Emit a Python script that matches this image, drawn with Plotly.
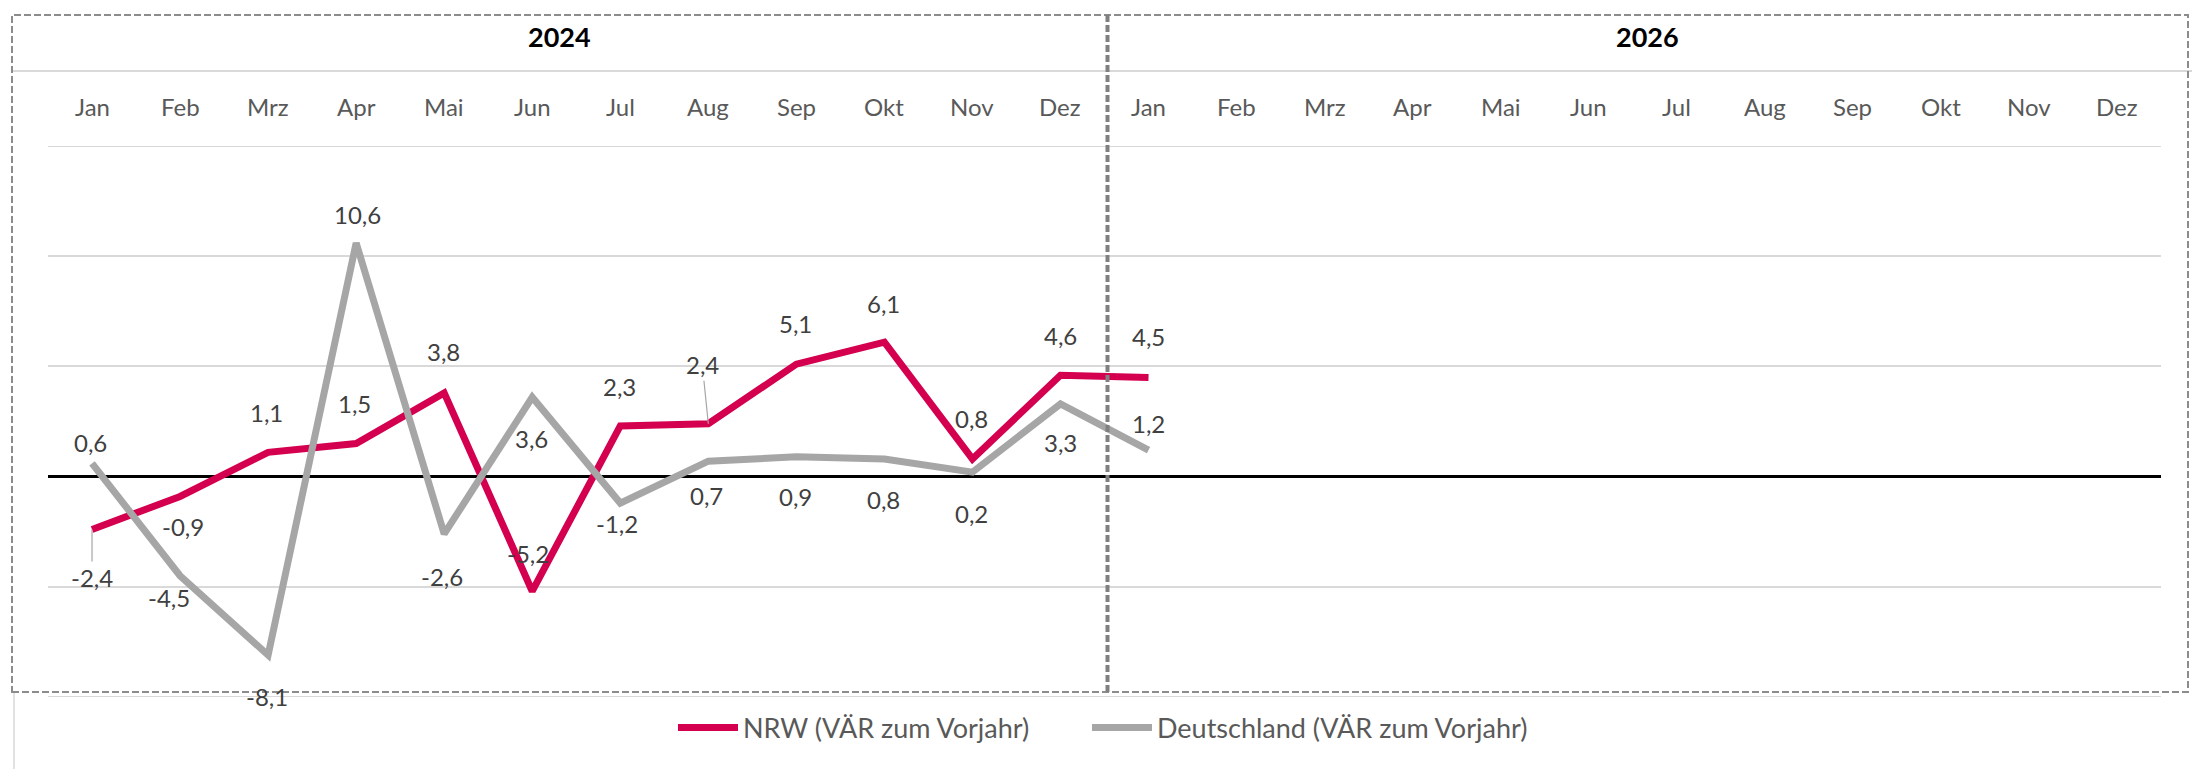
import plotly.graph_objects as go

# ---------------- data ----------------
months = ["Jan", "Feb", "Mrz", "Apr", "Mai", "Jun", "Jul", "Aug", "Sep", "Okt", "Nov", "Dez"]
years = ["2024", "2026"]
nrw_values = [-2.4, -0.9, 1.1, 1.5, 3.8, -5.2, 2.3, 2.4, 5.1, 6.1, 0.8, 4.6,
              4.5, None, None, None, None, None, None, None, None, None, None, None]
de_values = [0.6, -4.5, -8.1, 10.6, -2.6, 3.6, -1.2, 0.7, 0.9, 0.8, 0.2, 3.3,
             1.2, None, None, None, None, None, None, None, None, None, None, None]
series_names = ["NRW (VÄR zum Vorjahr)", "Deutschland (VÄR zum Vorjahr)"]
y_min, y_max, y_step = -10, 15, 5

# ---------------- styles / layout ----------------
W, H = 2192, 769
ML, MR, MT, MB = 48, 31, 146, 72
PW = W - ML - MR
PH = H - MT - MB

NRW_COLOR = "#D4004F"
DE_COLOR = "#A6A6A6"
LABEL_COLOR = "#404040"
AXIS_TEXT = "#595959"
GRID = "#D9D9D9"
FONT = "Lato"

# label offsets (pixels: dx right, dy down) and leader flags
nrw_off = [(0, 48), (3, 30), (-2, -40), (-2, -40), (-1, -41), (-4, -38), (-1, -39),
           (-6, -59), (-1, -41), (-1, -39), (-1, -40), (0, -40), (0, -41)]
nrw_leader = [True, False, False, False, False, False, False, True, False, False, False, False, False]
de_off = [(-2, -21), (-11, 22), (-1, 41), (1, -28), (-2, 43), (-1, 41), (-3, 20),
          (-2, 34), (-1, 40), (-1, 41), (-1, 41), (0, 39), (0, -27)]
legend_left_px = [673, 1087]


def px_x(px):
    return (px - ML) / PW


def px_y(py):
    return (H - MB - py) / PH


cats = list(range(len(years) * len(months)))
tickvals = list(range(y_min, y_max + 1, y_step))

fig = go.Figure()
fig.add_trace(go.Scatter(x=cats, y=nrw_values, mode="lines", name=series_names[0],
                         line=dict(color=NRW_COLOR, width=7), hoverinfo="skip", legend="legend"))
fig.add_trace(go.Scatter(x=cats, y=de_values, mode="lines", name=series_names[1],
                         line=dict(color=DE_COLOR, width=7), hoverinfo="skip", legend="legend2"))

annotations = []


def fmt(v):
    return f"{v:.1f}".replace(".", ",")


def add_labels(values, offs, leaders=None):
    for i, v in enumerate(values):
        if v is None:
            continue
        dx, dy = offs[i]
        if leaders and leaders[i]:
            annotations.append(dict(x=cats[i], y=v, xref="x", yref="y", text=fmt(v),
                                    showarrow=True, ax=dx, ay=dy, arrowhead=0, arrowwidth=1.2,
                                    arrowcolor="#A6A6A6", standoff=0,
                                    font=dict(family=FONT, size=24, color=LABEL_COLOR)))
        else:
            annotations.append(dict(x=cats[i], y=v, xref="x", yref="y", text=fmt(v),
                                    showarrow=False, xshift=dx, yshift=-dy,
                                    xanchor="center", yanchor="middle",
                                    font=dict(family=FONT, size=24, color=LABEL_COLOR)))


add_labels(nrw_values, nrw_off, nrw_leader)
add_labels(de_values, de_off)

# month labels (top category axis)
for i in cats:
    annotations.append(dict(x=i, y=px_y(107), xref="x", yref="paper", text=months[i % 12],
                            showarrow=False, xanchor="center", yanchor="middle",
                            font=dict(family=FONT, size=24, color=AXIS_TEXT)))

# frame geometry
FL, FR, FT, FB = 12, 2188, 15, 692
DIV = ML + PW / 2 + 3
year_centers = [(FL + DIV) / 2, (DIV + FR) / 2]
for yr, cx in zip(years, year_centers):
    annotations.append(dict(x=px_x(cx), y=px_y(37), xref="paper", yref="paper", text=f"<b>{yr}</b>",
                            showarrow=False, xanchor="center", yanchor="middle",
                            font=dict(family=FONT, size=27, color="#000000")))

shapes = [
    # header separator
    dict(type="line", xref="paper", yref="paper", x0=px_x(13), x1=px_x(W), y0=px_y(71), y1=px_y(71),
         line=dict(color=GRID, width=2), layer="below"),
    # faint left border below frame
    dict(type="line", xref="paper", yref="paper", x0=px_x(14), x1=px_x(14), y0=px_y(692), y1=px_y(H),
         line=dict(color=GRID, width=1.5), layer="below"),
]
# edge gridlines (plotly hides gridlines at the range edges)
for gv in (y_min, y_max):
    shapes.append(dict(type="line", xref="paper", yref="y", x0=0, x1=1, y0=gv, y1=gv,
                       line=dict(color=GRID, width=2), layer="below"))
shapes += [
    # dashed frame
    dict(type="rect", xref="paper", yref="paper", x0=px_x(FL), x1=px_x(FR), y0=px_y(FB), y1=px_y(FT),
         line=dict(color="#8C8C8C", width=2, dash="7px,3px"), layer="above"),
    # divider
    dict(type="line", xref="paper", yref="paper", x0=px_x(DIV), x1=px_x(DIV), y0=px_y(FB), y1=px_y(FT),
         line=dict(color="#808080", width=4, dash="7px,3px"), layer="above"),
]

legend_common = dict(orientation="h", xanchor="left", y=px_y(728), yanchor="middle",
                     font=dict(family=FONT, size=27, color=AXIS_TEXT), itemwidth=60,
                     bgcolor="rgba(0,0,0,0)")

fig.update_layout(
    width=W, height=H,
    margin=dict(l=ML, r=MR, t=MT, b=MB, autoexpand=False),
    paper_bgcolor="white", plot_bgcolor="white",
    font=dict(family=FONT, color=AXIS_TEXT),
    showlegend=True,
    legend=dict(x=px_x(legend_left_px[0]), **legend_common),
    legend2=dict(x=px_x(legend_left_px[1]), **legend_common),
    xaxis=dict(range=[-0.5, len(cats) - 0.5], showgrid=False, zeroline=False, showticklabels=False,
               showline=False, ticks=""),
    yaxis=dict(range=[y_min, y_max], tickvals=tickvals, showgrid=True,
               gridcolor=GRID, gridwidth=2,
               zeroline=True, zerolinecolor="#000000", zerolinewidth=3,
               showticklabels=False, showline=False, ticks=""),
    annotations=annotations,
    shapes=shapes,
    hovermode=False,
)

fig.write_html("out.html", config={"displayModeBar": False},
               post_script="document.body.style.margin='0';document.body.style.overflow='hidden';")
